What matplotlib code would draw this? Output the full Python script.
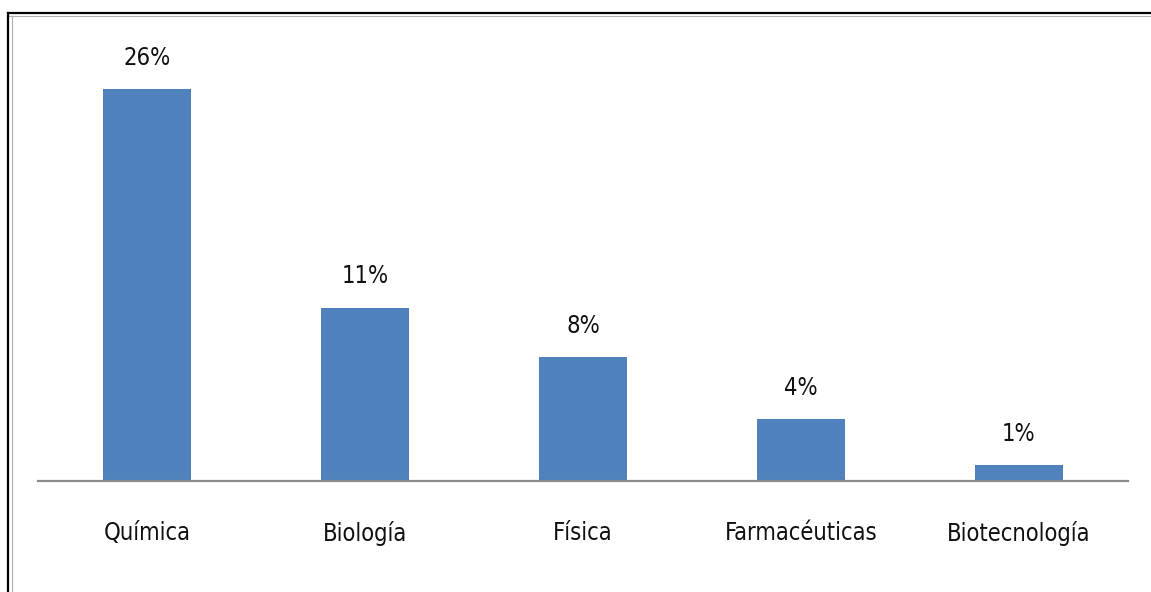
import matplotlib
matplotlib.use("Agg")
import matplotlib.pyplot as plt
from matplotlib.lines import Line2D
from matplotlib import font_manager

# data
categories = ["Química", "Biología", "Física", "Farmacéuticas", "Biotecnología"]
values = [26.0, 11.5, 8.2, 4.1, 1.05]
labels = ["26%", "11%", "8%", "4%", "1%"]

W, H = 1151, 592
plt.rcParams['font.family'] = ['DejaVu Sans']
plt.rcParams['font.stretch'] = 'condensed'
print(font_manager.findfont(font_manager.FontProperties(family='DejaVu Sans', stretch='condensed')))

fig = plt.figure(figsize=(W / 100, H / 100), dpi=100)
fig.patch.set_facecolor("white")

# axes placed in pixels: baseline at y=481, from x=38 to x=1128
ax = fig.add_axes([38 / W, (H - 481) / H, 1090 / W, 422 / H])
x = range(len(categories))
bars = ax.bar(x, values, width=0.4, color="#4F81BD")
ax.set_xlim(-0.5, len(categories) - 0.5)
ax.set_ylim(0, 28)

for b, lab in zip(bars, labels):
    ax.annotate(lab, (b.get_x() + b.get_width() / 2, b.get_height()),
                xytext=(0, 14), textcoords="offset points",
                ha="center", va="bottom", fontsize=17, color="#111111")

ax.set_xticks(list(x))
ax.set_xticklabels(categories, fontsize=17, color="#111111")
ax.tick_params(axis="x", length=0, pad=29)
ax.set_yticks([])
for s in ["top", "right", "left"]:
    ax.spines[s].set_visible(False)
ax.spines["bottom"].set_color("#8c8c8c")
ax.spines["bottom"].set_linewidth(1.6)

# outer frame (top and left edges)
def px(xp, yp):
    return xp / W, 1 - yp / H

fig.add_artist(Line2D(*zip(px(8, 13), px(W, 13)), color="black", lw=1.6))
fig.add_artist(Line2D(*zip(px(8, 15.5), px(W, 15.5)), color="#b0b0b0", lw=0.8))
fig.add_artist(Line2D(*zip(px(8, 13), px(8, H)), color="black", lw=1.6))
fig.add_artist(Line2D(*zip(px(11.5, 15.5), px(11.5, H)), color="#b0b0b0", lw=0.8))

fig.savefig("out.png", dpi=100)
